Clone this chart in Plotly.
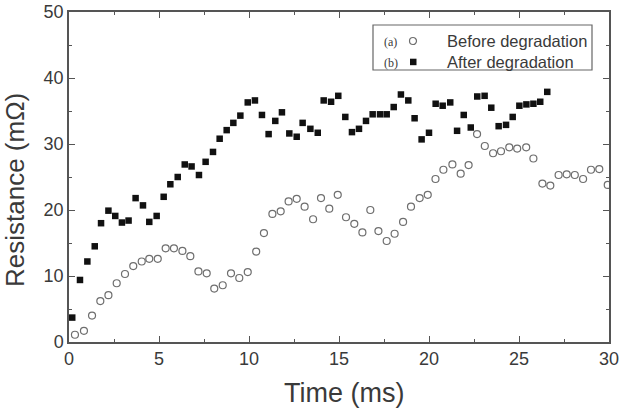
import plotly.graph_objects as go

# Before degradation (open circles)
before_t = [0.33, 0.83, 1.28, 1.74, 2.19, 2.65, 3.11, 3.57, 4.04, 4.46, 4.93, 5.37, 5.83,
            6.30, 6.74, 7.19, 7.65, 8.07, 8.54, 9.00, 9.46, 9.93, 10.40, 10.83, 11.30,
            11.76, 12.20, 12.65, 13.09, 13.56, 14.00, 14.46, 14.93, 15.39, 15.85, 16.30,
            16.74, 17.19, 17.65, 18.09, 18.56, 19.00, 19.48, 19.93, 20.36, 20.80, 21.30,
            21.76, 22.20, 22.67, 23.10, 23.56, 24.00, 24.46, 24.90, 25.40, 25.80, 26.30,
            26.74, 27.20, 27.65, 28.10, 28.56, 29.00, 29.46, 29.93]
before_r = [1.1, 1.7, 4.0, 6.2, 7.1, 8.9, 10.3, 11.5, 12.2, 12.6, 12.6, 14.2, 14.2,
            13.8, 13.0, 10.7, 10.4, 8.1, 8.6, 10.4, 9.7, 10.6, 13.7, 16.5, 19.4,
            19.8, 21.3, 21.7, 20.5, 18.6, 21.8, 20.2, 22.3, 18.9, 17.9, 16.6,
            20.0, 16.8, 15.3, 16.4, 18.2, 20.5, 21.8, 22.3, 24.7, 26.1, 26.9,
            25.5, 26.8, 31.5, 29.7, 28.6, 28.9, 29.5, 29.3, 29.5, 27.8, 24.0,
            23.7, 25.3, 25.4, 25.3, 24.7, 26.1, 26.2, 23.8]

# After degradation (filled squares)
after_t = [0.18, 0.61, 1.02, 1.43, 1.78, 2.19, 2.57, 2.94, 3.31, 3.70, 4.11, 4.46, 4.87,
           5.26, 5.63, 6.04, 6.43, 6.81, 7.22, 7.59, 8.00, 8.37, 8.76, 9.13, 9.52, 9.93,
           10.33, 10.72, 11.09, 11.46, 11.83, 12.24, 12.65, 12.98, 13.41, 13.82, 14.15,
           14.56, 14.96, 15.35, 15.72, 16.11, 16.50, 16.87, 17.28, 17.65, 18.04, 18.44,
           18.85, 19.20, 19.59, 20.00, 20.37, 20.76, 21.18, 21.56, 21.93, 22.32, 22.68,
           23.09, 23.46, 23.87, 24.28, 24.65, 25.02, 25.41, 25.80, 26.18, 26.57]
after_r = [3.7, 9.4, 12.2, 14.5, 18.0, 19.9, 19.1, 18.1, 18.4, 21.8, 20.7, 18.2, 19.1,
           22.0, 23.9, 25.0, 26.9, 26.6, 25.3, 27.3, 28.8, 30.8, 32.1, 33.2, 34.3, 36.3,
           36.6, 34.4, 31.5, 33.5, 34.8, 31.6, 31.1, 33.2, 32.3, 31.7, 36.6,
           36.4, 37.3, 34.1, 31.8, 32.3, 33.5, 34.5, 34.5, 34.5, 35.6, 37.5,
           36.6, 33.9, 30.7, 31.7, 36.1, 35.8, 36.3, 32.0, 34.4, 32.5, 37.2,
           37.3, 35.5, 32.7, 32.9, 34.1, 35.8, 36.0, 36.1, 36.4, 37.9]

x_ticks = [0, 5, 10, 15, 20, 25, 30]
y_ticks = [0, 10, 20, 30, 40, 50]

W, H = 630, 408
L, R, T, B = 69, 21, 12, 66
pw, ph = W - L - R, H - T - B

def px(x):
    return (x - L) / pw

def py(y):
    return (H - B - y) / ph

FONT = "Liberation Sans, Arial, sans-serif"
SERIF = "Liberation Serif, Times New Roman, serif"
TXT = "#3a3a3a"
AX = "#555555"

fig = go.Figure()
fig.add_trace(go.Scatter(x=before_t, y=before_r, mode="markers", name="Before degradation",
                         marker=dict(symbol="circle-open", size=7, color="#6e6e6e",
                                     line=dict(width=1.2, color="#6e6e6e"))))
fig.add_trace(go.Scatter(x=after_t, y=after_r, mode="markers", name="After degradation",
                         marker=dict(symbol="square", size=6.5, color="#111111")))

axis_common = dict(showgrid=False, zeroline=False, showline=True, linecolor=AX, linewidth=1.5,
                   mirror="ticks", ticks="inside", ticklen=6, tickwidth=1.3, tickcolor=AX,
                   automargin=False,
                   tickfont=dict(family=FONT, size=18, color=TXT))
fig.update_xaxes(range=[0, 30], tickmode="array", tickvals=x_ticks,
                 ticktext=[str(v) for v in x_ticks],
                 minor=dict(dtick=2.5, ticks="inside", ticklen=3, tickwidth=1.2, tickcolor=AX),
                 **axis_common)
fig.update_yaxes(range=[0, 50], tickmode="array", tickvals=y_ticks,
                 ticktext=[str(v) for v in y_ticks],
                 minor=dict(dtick=5, ticks="inside", ticklen=3, tickwidth=1.2, tickcolor=AX),
                 **axis_common)

def ann(text, x, y, size, family=FONT, xanchor="left", angle=0):
    return dict(text=text, x=px(x), y=py(y), xref="paper", yref="paper",
                xanchor=xanchor, yanchor="middle", textangle=angle, showarrow=False,
                font=dict(family=family, size=size, color=TXT))

annotations = [
    ann("Resistance (mΩ)", 15, 190, 26, xanchor="center", angle=-90),
    ann("Time (ms)", 344, 393, 27, xanchor="center"),
    ann("(a)", 382, 42, 12, family=SERIF),
    ann("(b)", 382, 63, 12, family=SERIF),
    ann("Before degradation", 445, 41, 16.5),
    ann("After degradation", 445, 62, 16.5),
]

shapes = [
    dict(type="rect", xref="paper", yref="paper", x0=px(373), x1=px(592), y0=py(70), y1=py(25),
         line=dict(color="#666666", width=1.2), fillcolor="white", layer="below"),
    dict(type="circle", xref="paper", yref="paper", x0=px(409.5), x1=px(416.5), y0=py(44.5), y1=py(37.5),
         line=dict(color="#6e6e6e", width=1.2)),
    dict(type="rect", xref="paper", yref="paper", x0=px(410), x1=px(416.5), y0=py(65.2), y1=py(58.7),
         line=dict(color="#111111", width=0), fillcolor="#111111"),
]

fig.update_layout(width=W, height=H, margin=dict(l=L, r=R, t=T, b=B),
                  plot_bgcolor="white", paper_bgcolor="white", showlegend=False,
                  annotations=annotations, shapes=shapes)

fig.write_html("out.html")
